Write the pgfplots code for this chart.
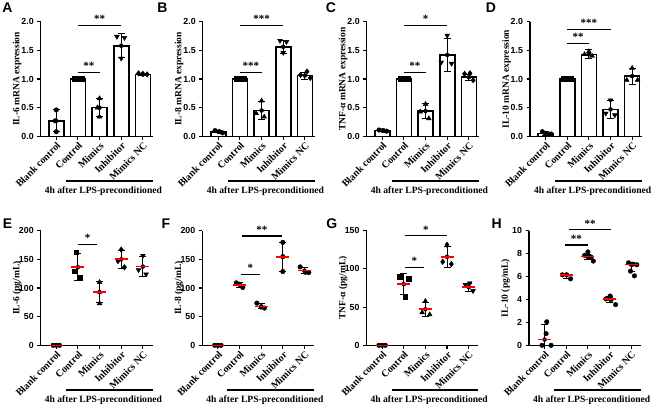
\documentclass[border=0pt]{standalone}
\usepackage{fontspec}
\setmainfont{Liberation Serif}
\setsansfont{Liberation Sans}
\usepackage{pgfplots}
\pgfplotsset{compat=1.18}
\newcommand{\grp}{%
 \draw[line width=1.2pt] (rel axis cs:0.225,-0.39) -- (rel axis cs:1.0,-0.39);
 \node[font=\bfseries\fontsize{9.6}{11}\selectfont] at (rel axis cs:0.56,-0.477) {4h after LPS-preconditioned};}
\tikzset{plet/.style={font=\sffamily\bfseries\fontsize{14}{14}\selectfont},
 sig/.style={line width=1.1pt},
 star/.style={font=\bfseries\fontsize{11}{12}\selectfont, above, inner sep=2pt}}
\pgfplotsset{
 panel/.style={scale only axis, width=111.9pt, height=114.6pt, anchor=south west,
  axis x line=bottom, axis y line=left, axis line style={-, line width=1.2pt},
  tick style={line width=1.1pt, black}, tick align=outside, major tick length=3.5pt,
  xmin=-0.72, xmax=4.45, ymin=0, xtick={0,1,2,3,4},
  xticklabels={Blank control,Control,Mimics,Inhibitor,Mimics NC},
  xticklabel style={font=\bfseries\fontsize{10}{12}\selectfont, rotate=45, anchor=north east, inner sep=1pt},
  yticklabel style={font=\sffamily\bfseries\fontsize{8.8}{10}\selectfont},
  /pgf/number format/assume math mode=true,
  ylabel style={font=\bfseries\fontsize{9.5}{11}\selectfont, at={(rel axis cs:-0.21,0.5)}, anchor=center},
  clip=false},
 toprow/.style={ymax=2, ytick={0,0.5,1,1.5,2}, yticklabels={0.0,0.5,1.0,1.5,2.0}},
 barplot/.style={ybar, bar width=15pt, fill=white, draw=black, line width=1.6pt},
 ebar/.style={only marks, mark=none, black, error bars/.cd, y dir=both, y explicit, error bar style={line width=0.9pt, black}, error mark options={rotate=90, mark size=3.5pt, line width=0.9pt, black}},
 pts/.style={only marks, black, mark size=2.3pt},
 tri/.style={only marks, black, mark=triangle*, mark size=2.8pt},
 inv/.style={only marks, black, mark=triangle*, mark size=2.8pt, mark options={rotate=180}},
 dia/.style={only marks, black, mark=diamond*, mark size=2.8pt},
 sqr/.style={only marks, black, mark=square*, mark size=2.3pt},
 redm/.style={only marks, mark=-, mark size=6.5pt, red, mark options={line width=1.6pt}},
}
\begin{document}
\begin{tikzpicture}
\path[use as bounding box] (0,0) rectangle (655pt,405pt);
\node[plet] at (7.5pt,397.3pt) {A};
\node[plet] at (162.5pt,397.3pt) {B};
\node[plet] at (331pt,397.3pt) {C};
\node[plet] at (491pt,397.3pt) {D};
\node[plet] at (7.5pt,181.7pt) {E};
\node[plet] at (166pt,181.7pt) {F};
\node[plet] at (331.7pt,181.7pt) {G};
\node[plet] at (496.7pt,181.7pt) {H};

% ---------------- A
\begin{axis}[panel, toprow, at={(40.7pt,268.7pt)}, ylabel={IL-6 mRNA expression}]
\addplot[barplot] table {
x y
0 0.27
1 1.00
2 0.50
3 1.58
4 1.08
};
\addplot[ebar] table[x=x, y=y, y error=e] {
x y e
0 0.27 0.19
1 1.00 0.005
2 0.50 0.16
3 1.58 0.21
4 1.08 0.02
};
\addplot[pts, mark=*] coordinates {(0.0,0.46) (-0.05,0.27) (0.0,0.08)};
\addplot[sqr] coordinates {(0.82,1.0) (1.0,1.0) (1.18,1.0)};
\addplot[tri] coordinates {(2.0,0.66) (1.9,0.50) (2.0,0.34)};
\addplot[inv] coordinates {(2.8,1.74) (3.15,1.72) (3.0,1.36)};
\addplot[dia] coordinates {(3.8,1.10) (4.0,1.09) (4.2,1.08)};
\draw[sig] (axis cs:1,1.12) -- (axis cs:2,1.12) node[midway,star] {**};
\draw[sig] (axis cs:1,1.94) -- (axis cs:3,1.94) node[midway,star] {**};
\grp
\end{axis}

% ---------------- B
\begin{axis}[panel, toprow, at={(202.7pt,268.7pt)}, ylabel={IL-8 mRNA expression}]
\addplot[barplot] table {
x y
0 0.08
1 1.00
2 0.45
3 1.56
4 1.06
};
\addplot[ebar] table[x=x, y=y, y error=e] {
x y e
0 0.08 0.02
1 1.00 0.005
2 0.45 0.16
3 1.56 0.11
4 1.06 0.06
};
\addplot[pts, mark=*] coordinates {(-0.15,0.10) (0.05,0.08) (0.2,0.06)};
\addplot[sqr] coordinates {(0.82,1.0) (1.0,1.0) (1.18,1.0)};
\addplot[tri] coordinates {(2.0,0.62) (1.75,0.40) (2.12,0.34)};
\addplot[inv] coordinates {(2.85,1.67) (3.15,1.65) (3.0,1.46)};
\addplot[dia] coordinates {(3.8,1.07) (4.1,1.13) (4.25,1.02)};
\draw[sig] (axis cs:1,1.12) -- (axis cs:2,1.12) node[midway,star] {***};
\draw[sig] (axis cs:1,1.94) -- (axis cs:3,1.94) node[midway,star] {***};
\grp
\end{axis}

% ---------------- C
\begin{axis}[panel, toprow, at={(366.7pt,268.7pt)}, ylabel={TNF-α mRNA expression}]
\addplot[barplot] table {
x y
0 0.10
1 1.00
2 0.44
3 1.42
4 1.03
};
\addplot[ebar] table[x=x, y=y, y error=e] {
x y e
0 0.10 0.01
1 1.00 0.005
2 0.44 0.13
3 1.42 0.29
4 1.03 0.05
};
\addplot[pts, mark=*] coordinates {(-0.15,0.11) (0.05,0.10) (0.2,0.09)};
\addplot[sqr] coordinates {(0.82,1.0) (1.0,1.0) (1.18,1.0)};
\addplot[tri] coordinates {(2.0,0.56) (1.75,0.43) (2.15,0.31)};
\addplot[inv] coordinates {(3.0,1.76) (2.72,1.29) (3.2,1.27)};
\addplot[dia] coordinates {(3.8,1.09) (4.05,1.10) (4.2,0.98)};
\draw[sig] (axis cs:1,1.12) -- (axis cs:2,1.12) node[midway,star] {**};
\draw[sig] (axis cs:1,1.94) -- (axis cs:3,1.94) node[midway,star] {*};
\grp
\end{axis}

% ---------------- D
\begin{axis}[panel, toprow, at={(530pt,268.7pt)}, ylabel={IL-10 mRNA expression}]
\addplot[barplot] table {
x y
0 0.05
1 1.00
2 1.43
3 0.47
4 1.05
};
\addplot[ebar] table[x=x, y=y, y error=e] {
x y e
0 0.05 0.03
1 1.00 0.005
2 1.43 0.08
3 0.47 0.15
4 1.05 0.14
};
\addplot[pts, mark=*] coordinates {(-0.15,0.08) (0.0,0.05) (0.15,0.03) (0.25,0.04)};
\addplot[sqr] coordinates {(0.82,1.0) (1.0,1.0) (1.18,1.0)};
\addplot[tri] coordinates {(2.0,1.48) (1.8,1.43) (2.15,1.40)};
\addplot[inv] coordinates {(3.0,0.63) (2.78,0.40) (3.2,0.37)};
\addplot[tri] coordinates {(4.0,1.19) (3.75,0.98) (4.25,0.98)};
\draw[sig] (axis cs:1,1.62) -- (axis cs:2,1.62) node[midway,star] {**};
\draw[sig] (axis cs:1,1.87) -- (axis cs:3,1.87) node[midway,star] {***};
\grp
\end{axis}

% ---------------- E
\begin{axis}[panel, at={(40.7pt,59.7pt)}, ymax=200, ytick={0,50,100,150,200}, yticklabels={0,50,100,150,200}, ylabel={IL-6 (pg/mL)}]
\addplot[ebar] table[x=x, y=y, y error plus=ep, y error minus=em] {
x y ep em
0 0 0 0
1 136.4 24 24
2 92.8 18.5 18.5
3 150.1 16 16
4 137.4 18 18
};
\addplot[pts, mark=*] coordinates {(-0.15,0) (0,0) (0.15,0)};
\addplot[sqr] coordinates {(0.92,162.3) (0.82,129.3) (1.08,117.7)};
\addplot[tri] coordinates {(2.0,110) (2.0,93.3) (2.0,73)};
\addplot[dia] coordinates {(3.0,167) (2.85,147.2) (3.15,136.2)};
\addplot[inv] coordinates {(4.0,156.5) (3.8,131.6) (4.15,124)};
\addplot[redm] coordinates {(0,0) (1,136.4) (2,92.8) (3,150.1) (4,137.4)};
\draw[sig] (axis cs:1,176) -- (axis cs:1.9,176) node[midway,star] {*};
\grp
\end{axis}

% ---------------- F
\begin{axis}[panel, at={(202.3pt,59.7pt)}, ymax=200, ytick={0,50,100,150,200}, yticklabels={0,50,100,150,200}, ylabel={IL-8 (pg/mL)}]
\addplot[ebar] table[x=x, y=y, y error plus=ep, y error minus=em] {
x y ep em
0 0 0 0
1 105.5 4 4
2 68 4.5 4.5
3 154.4 25.5 25.5
4 130.2 5.5 5.5
};
\addplot[pts, mark=*] coordinates {(-0.15,0) (0,0) (0.15,0)
 (0.85,109) (1.0,106.7) (1.15,100.9)
 (1.8,73.6) (2.0,66.7) (2.15,65)
 (3,179.7) (3,154.8) (3,128.7)
 (3.8,136.8) (4.05,127.5) (4.2,127)};
\addplot[redm] coordinates {(0,0) (1,105.5) (2,68) (3,154.4) (4,130.2)};
\draw[sig] (axis cs:1.05,123.5) -- (axis cs:1.95,123.5) node[midway,star] {*};
\draw[sig] (axis cs:1.1,190.7) -- (axis cs:2.97,190.7) node[midway,star] {**};
\grp
\end{axis}

% ---------------- G
\begin{axis}[panel, at={(366.5pt,59.7pt)}, ymax=150, ytick={0,50,100,150}, yticklabels={0,50,100,150}, ylabel={TNF-α (pg/mL)}]
\addplot[ebar] table[x=x, y=y, y error plus=ep, y error minus=em] {
x y ep em
0 0 0 0
1 80 14 14
2 47.2 9.4 9.4
3 115.8 14 14
4 76.2 5.3 5.3
};
\addplot[pts, mark=*] coordinates {(-0.15,0) (0,0) (0.15,0)};
\addplot[sqr] coordinates {(0.81,89.5) (1.22,87.5) (1.07,63.9)};
\addplot[tri] coordinates {(2.0,57.7) (1.85,42.9) (2.2,40.2)};
\addplot[dia] coordinates {(3.0,131.6) (2.8,109.3) (3.2,106.3)};
\addplot[inv] coordinates {(3.85,79.2) (4.05,81.4) (4.2,71.3)};
\addplot[redm] coordinates {(0,0) (1,80) (2,47.2) (3,115.8) (4,76.2)};
\draw[sig] (axis cs:1.05,101.9) -- (axis cs:1.94,101.9) node[midway,star] {*};
\draw[sig] (axis cs:1.04,143.4) -- (axis cs:3.0,143.4) node[midway,star] {*};
\grp
\end{axis}

% ---------------- H
\begin{axis}[panel, at={(529pt,59.7pt)}, ymax=10, ytick={0,2,4,6,8,10}, yticklabels={0,2,4,6,8,10}, ylabel={IL-10 (pg/mL)}]
\addplot[ebar] table[x=x, y=y, y error plus=ep, y error minus=em] {
x y ep em
0 0.5 1.3 0.5
1 6.15 0.05 0.3
2 7.75 0.15 0.3
3 4.05 0.2 0.35
4 7.05 0.15 0.6
};
\addplot[pts, mark=*] coordinates {(0.1,2.05) (0.07,1.02) (-0.12,0) (0.3,0)
 (0.82,6.15) (1.02,6.15) (1.2,5.8)
 (2.0,8.15) (1.85,7.85) (2.0,7.75) (2.15,7.7) (2.25,7.35)
 (2.83,4.05) (3.03,4.3) (3.08,4.0) (3.28,3.55)
 (3.88,7.2) (4.08,7.08) (4.26,7.03) (3.97,6.47) (4.15,6.06)};
\addplot[redm] coordinates {(0,0.5) (1,6.15) (2,7.75) (3,4.05) (4,7.05)};
\draw[sig] (axis cs:0.95,8.75) -- (axis cs:1.99,8.75) node[midway,star] {**};
\draw[sig] (axis cs:1.15,10.07) -- (axis cs:3.05,10.07) node[midway,star] {**};
\grp
\end{axis}
\end{tikzpicture}
\end{document}
